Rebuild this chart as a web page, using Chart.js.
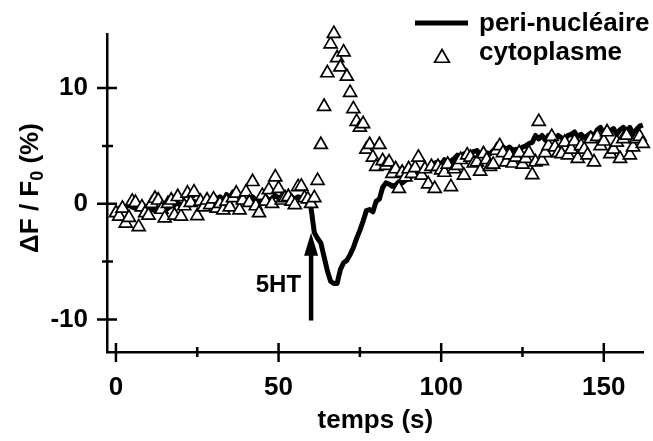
<!DOCTYPE html>
<html>
<head>
<meta charset="utf-8">
<script src="https://cdn.jsdelivr.net/npm/chart.js@4/dist/chart.umd.min.js"></script>
<style>
  body { margin: 0; background: #fff; }
  #wrap { width: 653px; height: 441px; position: relative; }
</style>
</head>
<body>
<div id="wrap"><canvas id="chart"></canvas></div>
<script>
// temps (s)
const temps = [
  0,1,2,3,4,5,6,7,8,9,10,11,12,13,14,15,16,17,18,19,
  20,21,22,23,24,25,26,27,28,29,30,31,32,33,34,35,36,37,38,39,
  40,41,42,43,44,45,46,47,48,49,50,51,52,53,54,55,56,57,58,59,
  60,61,62,63,64,65,66,67,68,69,70,71,72,73,74,75,76,77,78,79,
  80,81,82,83,84,85,86,87,88,89,90,91,92,93,94,95,96,97,98,99,
  100,101,102,103,104,105,106,107,108,109,110,111,112,113,114,115,116,117,118,119,
  120,121,122,123,124,125,126,127,128,129,130,131,132,133,134,135,136,137,138,139,
  140,141,142,143,144,145,146,147,148,149,150,151,152,153,154,155,156,157,158,159,
  160,161,162
];

// peri-nucléaire (ligne)
const periNucleaire = [
  -0.6,-0.4,-0.2,-0.3,-0.1,-0.3,-0.4,-0.4,-0.3,-0.2,
  -0.4,-0.5,-0.6,-0.5,-0.4,-0.6,-0.4,-0.2,-0.1,0.1,
  -0.2,0.0,0.1,-0.1,0.2,0.0,0.1,-0.1,0.3,0.2,
  0.7,0.4,0.6,0.2,0.8,0.5,1.0,0.6,0.8,0.4,
  0.3,0.2,0.6,0.3,0.1,0.2,0.6,0.3,0.45,0.7,
  0.5,0.6,0.9,0.7,0.6,0.4,0.6,0.5,0.4,0.3,
  -0.4,-2.5,-3.0,-3.4,-4.6,-5.8,-6.7,-6.9,-6.9,-5.7,
  -5.1,-4.9,-4.4,-3.8,-3.0,-2.3,-1.5,-0.6,-0.5,-0.7,
  0.2,0.4,1.4,1.8,1.7,1.5,1.6,1.9,1.8,2.0,
  2.2,2.4,2.7,2.9,2.8,3.0,3.1,3.1,3.5,3.6,
  3.4,3.8,3.6,3.7,3.9,4.2,4.0,4.3,4.0,4.4,
  4.5,4.6,4.2,4.5,4.4,4.3,4.6,4.8,4.5,4.9,
  4.7,4.9,4.6,4.7,4.6,4.9,5.0,5.2,5.3,5.9,
  5.6,5.9,5.5,5.9,6.0,5.6,5.9,5.7,5.6,5.9,
  6.0,6.2,5.8,6.0,5.7,5.9,6.1,5.8,6.4,6.6,
  6.0,6.3,6.3,6.5,6.0,6.4,6.6,6.2,6.6,6.0,
  6.4,6.7,6.8
];

// cytoplasme (triangles)
const cytoplasme = [
  -0.8,-1.1,-0.4,-1.7,-1.2,0.2,0.1,-2.0,-0.3,-0.8,
  -1.0,0.0,0.45,0.3,-0.5,-1.25,0.0,0.3,-1.0,0.6,
  -1.1,-0.2,0.9,0.1,1.0,-1.05,0.2,-0.3,0.3,-0.1,
  0.4,-0.4,0.0,-0.55,0.2,-0.3,0.5,0.9,-0.55,0.3,
  1.0,0.1,1.9,-0.2,-0.8,0.7,0.2,1.2,0.0,2.3,
  1.3,0.3,0.5,0.6,0.2,-0.1,1.45,1.5,0.5,0.4,
  0.0,0.5,2.0,5.1,8.4,11.3,13.8,14.7,12.6,11.8,
  13.1,11.0,9.6,8.2,7.1,6.6,6.9,4.7,5.1,4.0,
  3.2,5.1,3.7,3.3,3.6,2.6,3.0,1.3,2.7,2.3,
  3.0,2.6,3.1,4.0,2.45,3.0,1.7,3.2,1.3,3.2,
  2.9,2.7,3.4,1.45,3.0,3.3,3.8,2.45,4.2,4.0,
  3.5,3.6,2.8,4.3,3.8,3.2,3.4,4.6,5.0,4.4,
  3.6,4.2,3.5,4.0,4.4,3.4,3.9,4.4,2.5,3.6,
  7.1,3.7,4.4,5.0,5.8,4.9,4.4,4.3,5.3,4.2,
  4.7,5.4,3.9,5.0,4.7,4.2,5.6,3.6,5.8,5.0,
  5.4,6.2,4.3,4.7,5.3,3.9,5.6,5.9,4.2,4.9,
  5.6,5.8,5.2
];

const xTicks = [0, 50, 100, 150];
const xMinorTicks = [25, 75, 125];
const yTicks = [-10, 0, 10];
const yMinorTicks = [-5, 5];

const stimulusTime = 60;   // 5HT
const stimulusFrom = -10.1;
const stimulusTo = -2.5;

const FONT = '"Liberation Sans", Arial, sans-serif';

// axes ticks crossing the axis line, arrow, legend, y title
const extras = {
  id: 'extras',
  afterDraw(chart) {
    const ctx = chart.ctx;
    const xs = chart.scales.x, ys = chart.scales.y;
    const left = chart.chartArea.left, bottom = chart.chartArea.bottom;
    ctx.save();
    ctx.strokeStyle = '#000';
    ctx.lineWidth = 2.5;
    ctx.beginPath();
    yTicks.forEach(v => { const p = ys.getPixelForValue(v); ctx.moveTo(left - 10, p); ctx.lineTo(left + 10, p); });
    yMinorTicks.forEach(v => { const p = ys.getPixelForValue(v); ctx.moveTo(left - 5, p); ctx.lineTo(left + 6, p); });
    xTicks.forEach(v => { const p = xs.getPixelForValue(v); ctx.moveTo(p, bottom - 9); ctx.lineTo(p, bottom + 10); });
    xMinorTicks.forEach(v => { const p = xs.getPixelForValue(v); ctx.moveTo(p, bottom - 5); ctx.lineTo(p, bottom + 5); });
    ctx.stroke();

    // arrow 5HT
    const ax = xs.getPixelForValue(stimulusTime);
    const ay0 = ys.getPixelForValue(stimulusFrom);
    const ay1 = ys.getPixelForValue(stimulusTo);
    ctx.lineWidth = 4.5;
    ctx.lineCap = 'butt';
    ctx.beginPath();
    ctx.moveTo(ax, ay0);
    ctx.lineTo(ax, ay1 + 18);
    ctx.stroke();
    ctx.fillStyle = '#000';
    ctx.beginPath();
    ctx.moveTo(ax, ay1);
    ctx.lineTo(ax + 7, ay1 + 23);
    ctx.lineTo(ax - 7, ay1 + 23);
    ctx.closePath();
    ctx.fill();
    ctx.font = 'bold 24px ' + FONT;
    ctx.textAlign = 'right';
    ctx.textBaseline = 'middle';
    ctx.fillText('5HT', ax - 10, ys.getPixelForValue(-7.1));

    // legend
    ctx.lineWidth = 5;
    ctx.beginPath();
    ctx.moveTo(415, 23);
    ctx.lineTo(468, 23);
    ctx.stroke();
    ctx.lineWidth = 1.7;
    ctx.fillStyle = '#fff';
    const tx = 442, ty = 58, r = 8.5;
    ctx.beginPath();
    ctx.moveTo(tx, ty - r);
    ctx.lineTo(tx + r * 0.866, ty + r * 0.5);
    ctx.lineTo(tx - r * 0.866, ty + r * 0.5);
    ctx.closePath();
    ctx.fill();
    ctx.stroke();
    ctx.fillStyle = '#000';
    ctx.font = 'bold 26px ' + FONT;
    ctx.textAlign = 'left';
    ctx.textBaseline = 'alphabetic';
    ctx.fillText('peri-nucléaire', 479, 31);
    ctx.fillText('cytoplasme', 479, 60);

    // y title with subscript
    ctx.translate(38, 188);
    ctx.rotate(-Math.PI / 2);
    const big = 'bold 26px ' + FONT, small = 'bold 18px ' + FONT;
    const parts = [['\u0394F / F', big, 0], ['0', small, 5], [' (%)', big, 0]];
    let total = 0;
    parts.forEach(p => { ctx.font = p[1]; total += ctx.measureText(p[0]).width; });
    let cx = -total / 2;
    parts.forEach(p => {
      ctx.font = p[1];
      ctx.fillText(p[0], cx, p[2]);
      cx += ctx.measureText(p[0]).width;
    });
    ctx.restore();
  }
};

new Chart(document.getElementById('chart'), {
  type: 'line',
  data: {
    labels: temps,
    datasets: [
      {
        label: 'cytoplasme',
        data: temps.map((t, i) => ({ x: t, y: cytoplasme[i] })),
        showLine: false,
        pointStyle: 'triangle',
        pointRadius: 7.5,
        pointBorderWidth: 1.7,
        pointBackgroundColor: '#fff',
        pointBorderColor: '#000',
        clip: false,
        order: 1
      },
      {
        label: 'peri-nucléaire',
        data: temps.map((t, i) => ({ x: t, y: periNucleaire[i] })),
        borderColor: '#000',
        borderWidth: 5,
        borderJoinStyle: 'round',
        pointRadius: 0,
        tension: 0,
        fill: false,
        clip: false,
        order: 2
      }
    ]
  },
  options: {
    responsive: true,
    maintainAspectRatio: false,
    animation: false,
    layout: { padding: { top: 31, right: 6, left: 0, bottom: 0 } },
    plugins: {
      legend: { display: false },
      tooltip: { enabled: false }
    },
    scales: {
      x: {
        type: 'linear',
        min: -2.75,
        max: 162.3,
        grid: { display: false, drawTicks: false },
        border: { display: true, color: '#000', width: 2.5 },
        afterBuildTicks: s => { s.ticks = xTicks.map(v => ({ value: v })); },
        afterFit: s => { s.height = 89; },
        ticks: {
          padding: 20,
          color: '#000',
          maxRotation: 0,
          font: { family: FONT, size: 26, weight: 'bold' }
        },
        title: {
          display: true,
          text: 'temps (s)',
          color: '#000',
          padding: { top: 0, bottom: 5 },
          font: { family: FONT, size: 26, weight: 'bold' }
        }
      },
      y: {
        type: 'linear',
        min: -12.82,
        max: 14.62,
        grid: { display: false, drawTicks: false },
        border: { display: true, color: '#000', width: 2.5 },
        afterBuildTicks: s => { s.ticks = yTicks.map(v => ({ value: v })); },
        afterFit: s => { s.width = 107; },
        ticks: {
          padding: 19,
          color: '#000',
          font: { family: FONT, size: 26, weight: 'bold' }
        }
      }
    }
  },
  plugins: [extras]
});
</script>
</body>
</html>
